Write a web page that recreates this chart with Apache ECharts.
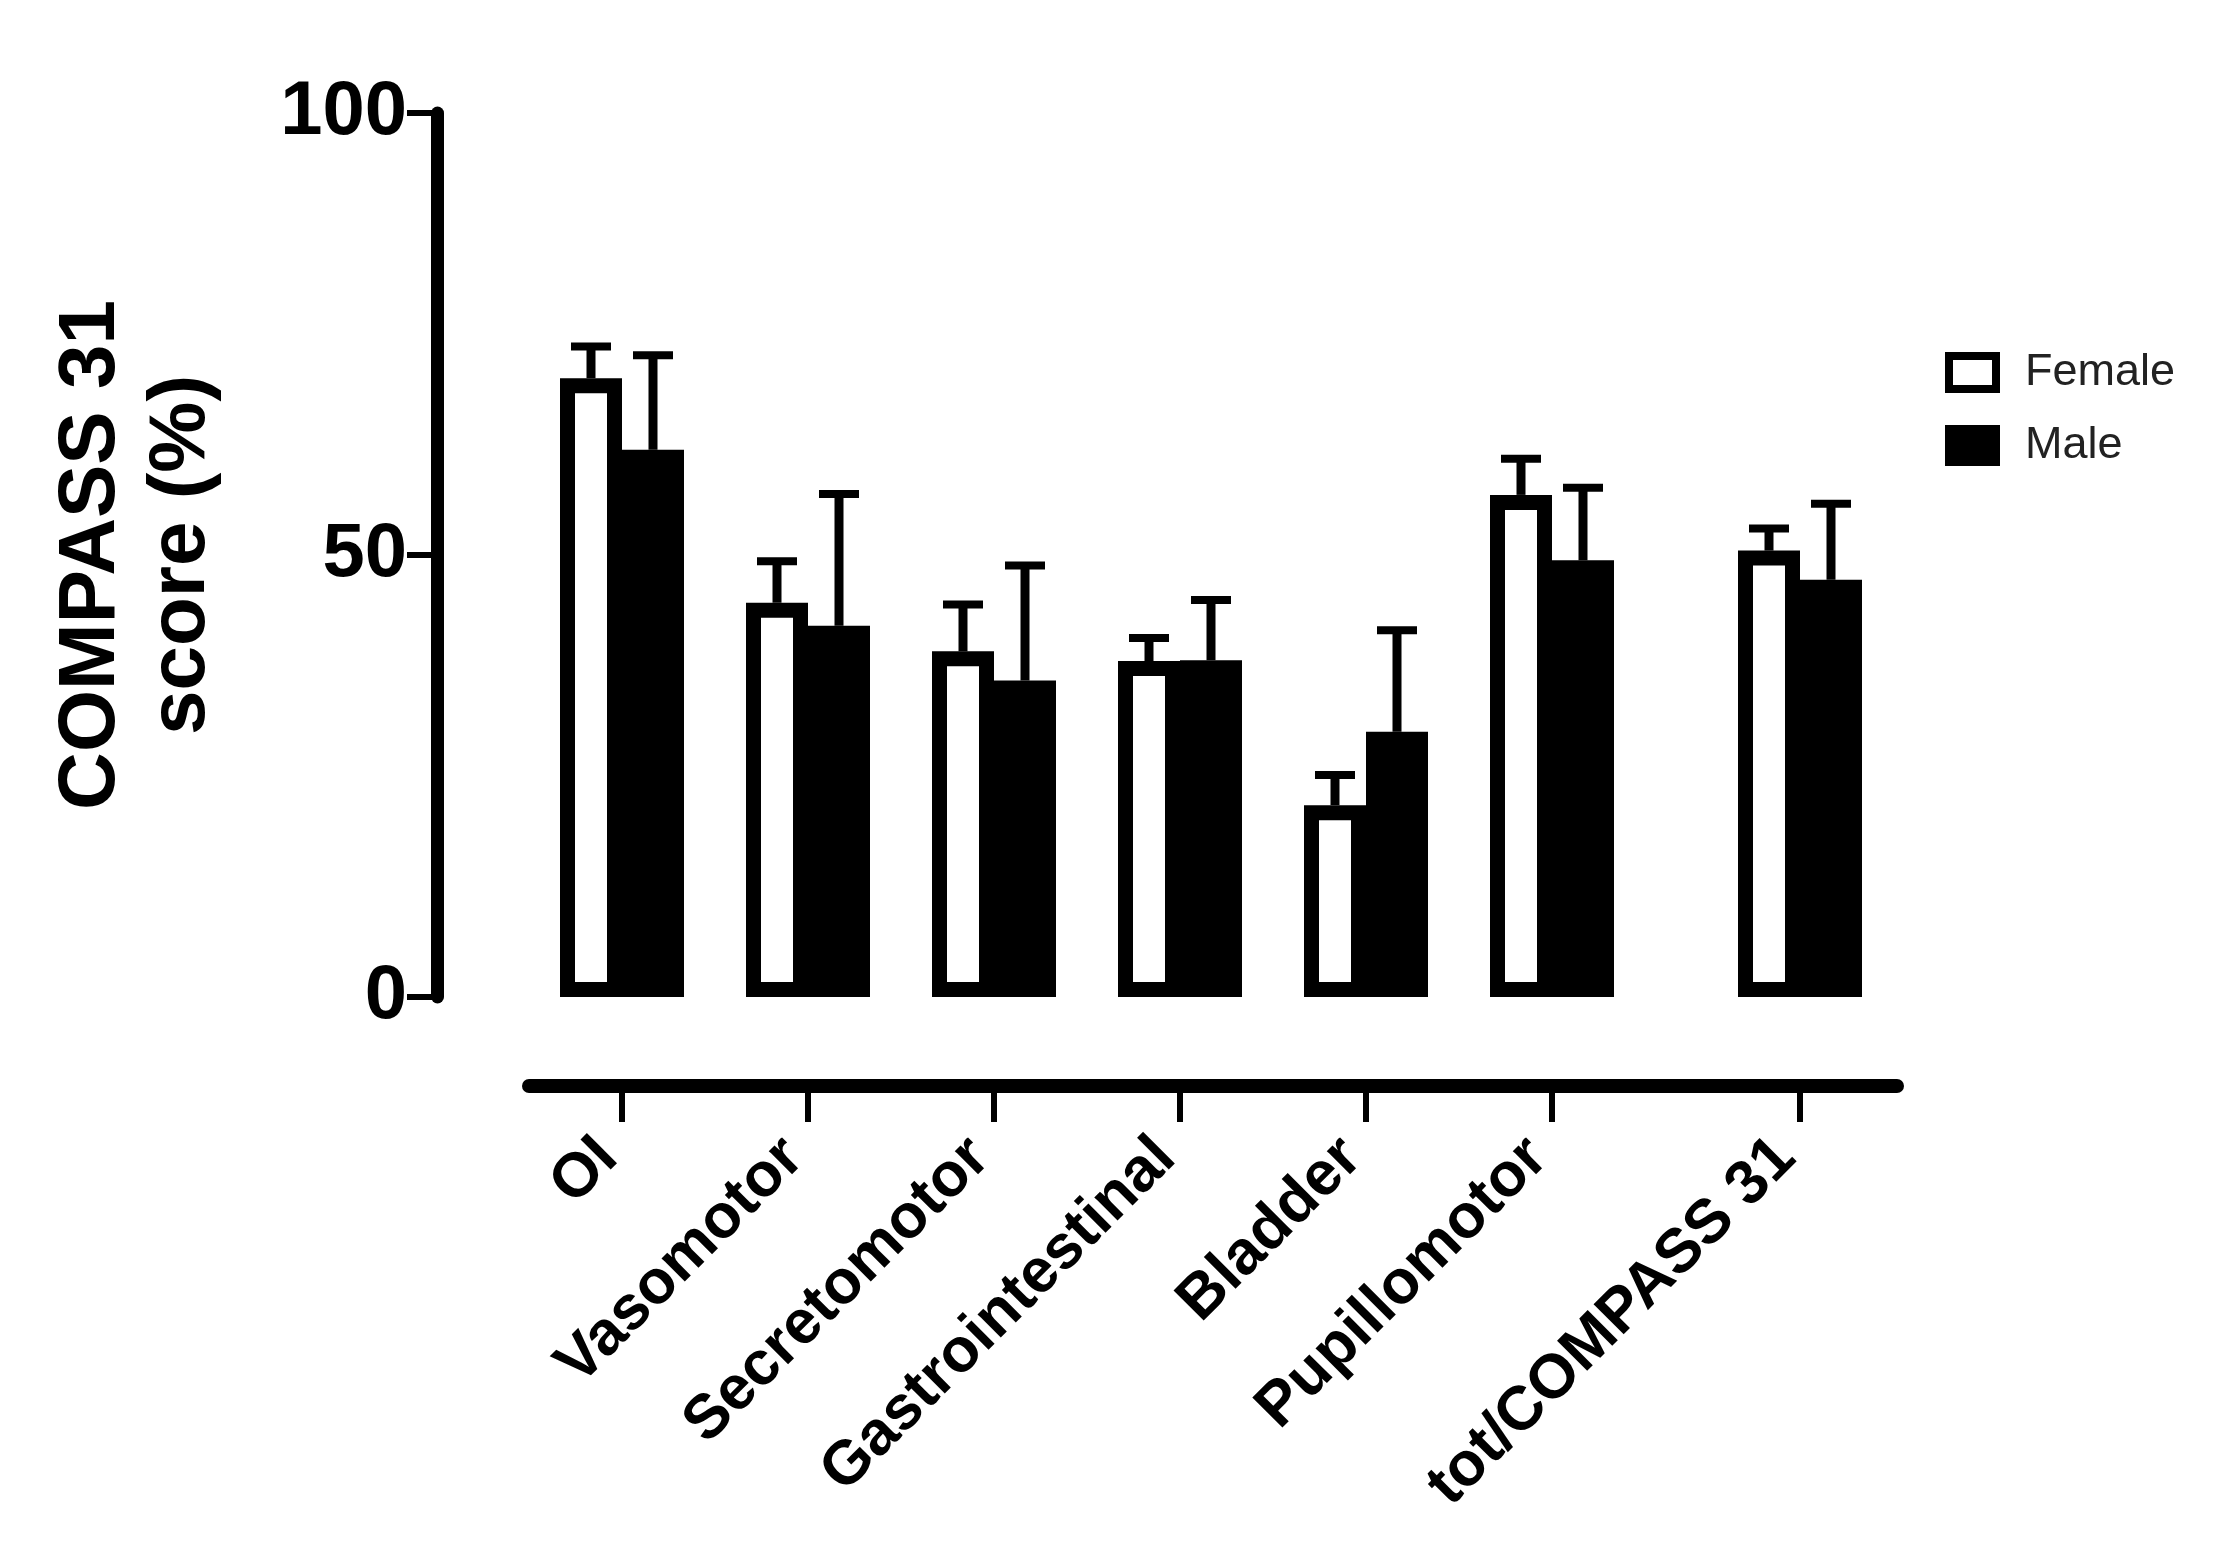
<!DOCTYPE html>
<html>
<head>
<meta charset="utf-8">
<script src="https://cdn.jsdelivr.net/npm/echarts@6/dist/echarts.min.js"></script>
<style>
html,body{margin:0;padding:0;background:#fff;}
#chart{width:2219px;height:1553px;}
</style>
</head>
<body>
<div id="chart"></div>
<script>
// ---- data ----
const categories = ['OI', 'Vasomotor', 'Secretomotor', 'Gastrointestinal', 'Bladder', 'Pupillomotor', 'tot/COMPASS 31'];
const femaleMean = [70.0, 44.6, 39.1, 38.0, 21.7, 56.8, 50.5];
const femaleErr  = [3.6, 4.7, 5.3, 2.6, 3.4, 4.1, 2.5];
const maleMean   = [61.9, 42.0, 35.8, 38.1, 30.0, 49.4, 47.2];
const maleErr    = [10.7, 14.9, 13.0, 6.8, 11.5, 8.2, 8.6];
const yTicks = [0, 50, 100];
const seriesNames = ['Female', 'Male'];

// ---- layout / style ----
const FONT = '"Liberation Sans", Arial, sans-serif';
const BAR_W = 62;
const GRID_TOP = 113, GRID_H = 884;
const nMain = 6;
const mainCats = categories.slice(0, nMain).concat(['']);
const totCats = categories.slice(nMain);

const chart = echarts.init(document.getElementById('chart'));

function xAxisCfg(gridIndex, data) {
  return {
    type: 'category', gridIndex: gridIndex, data: data, offset: 89,
    axisLine: {show: true, onZero: false, lineStyle: {color: '#000', width: 14}},
    axisTick: {show: true, alignWithLabel: true, length: 36,
      interval: function (i, v) { return v !== ''; },
      lineStyle: {color: '#000', width: 6}},
    axisLabel: {interval: 0, rotate: 45, margin: 48, color: '#000', padding: [0, 20, 0, 0],
      fontFamily: FONT, fontWeight: 'bold', fontSize: 62},
    splitLine: {show: false}
  };
}

function errRender(side) {
  return function (params, api) {
    const i = api.value(0), m = api.value(1), e = api.value(2);
    const base = api.coord([i, m]);
    const top = api.coord([i, m + e]);
    const x = base[0] + side * BAR_W / 2;
    return {type: 'group', children: [
      {type: 'line', shape: {x1: x, y1: base[1], x2: x, y2: top[1]}, style: {stroke: '#000', lineWidth: 9}},
      {type: 'line', shape: {x1: x - 20, y1: top[1], x2: x + 20, y2: top[1]}, style: {stroke: '#000', lineWidth: 8}}
    ]};
  };
}

function errData(means, errs) {
  return means.map(function (m, k) { return [k, m, errs[k]]; });
}

const femaleStyle = {color: '#fff', borderColor: '#000', borderWidth: 15};
const maleStyle = {color: '#000', borderColor: '#000', borderWidth: 15};

const series = [];
[[0, femaleMean.slice(0, nMain), maleMean.slice(0, nMain), femaleErr.slice(0, nMain), maleErr.slice(0, nMain)],
 [1, femaleMean.slice(nMain), maleMean.slice(nMain), femaleErr.slice(nMain), maleErr.slice(nMain)]].forEach(function (g) {
  const gi = g[0];
  series.push({name: seriesNames[0], type: 'bar', xAxisIndex: gi, yAxisIndex: gi, data: g[1],
    barWidth: BAR_W, barGap: '0%', itemStyle: femaleStyle, z: 2, silent: true});
  series.push({name: seriesNames[1], type: 'bar', xAxisIndex: gi, yAxisIndex: gi, data: g[2],
    barWidth: BAR_W, barGap: '0%', itemStyle: maleStyle, z: 2, silent: true});
  series.push({type: 'custom', xAxisIndex: gi, yAxisIndex: gi, renderItem: errRender(-1),
    data: errData(g[1], g[3]), z: 3, silent: true});
  series.push({type: 'custom', xAxisIndex: gi, yAxisIndex: gi, renderItem: errRender(1),
    data: errData(g[2], g[4]), z: 3, silent: true});
});

const option = {
  backgroundColor: '#fff',
  animation: false,
  grid: [
    {left: 529, top: GRID_TOP, width: 186 * 7, height: GRID_H, outerBoundsMode: 'none'},
    {left: 1703, top: GRID_TOP, width: 194, height: GRID_H, outerBoundsMode: 'none'}
  ],
  legend: {
    orient: 'vertical', left: 1940, top: 345,
    itemWidth: 47, itemHeight: 33, itemGap: 28, icon: 'rect',
    textStyle: {fontFamily: FONT, fontSize: 45, color: '#222', lineHeight: 33, padding: [0, 0, 0, 24]},
    data: [
      {name: seriesNames[0], itemStyle: {color: '#fff', borderColor: '#000', borderWidth: 8}},
      {name: seriesNames[1], itemStyle: {color: '#000', borderColor: '#000', borderWidth: 8}}
    ],
    selectedMode: false
  },
  xAxis: [xAxisCfg(0, mainCats), xAxisCfg(1, totCats)],
  yAxis: [
    {type: 'value', gridIndex: 0, min: yTicks[0], max: yTicks[yTicks.length - 1], interval: yTicks[1] - yTicks[0],
      position: 'left', offset: 92,
      axisLine: {show: true, lineStyle: {color: '#000', width: 13}},
      axisTick: {show: true, length: 30, lineStyle: {color: '#000', width: 6}},
      axisLabel: {margin: 30, color: '#000', fontFamily: FONT, fontWeight: 'bold', fontSize: 76},
      splitLine: {show: false},
      name: 'COMPASS 31\nscore (%)', nameLocation: 'middle', nameRotate: 90, nameGap: 210,
      nameTextStyle: {fontFamily: FONT, fontWeight: 'bold', fontSize: 80, lineHeight: 90, color: '#000', align: 'center'}
    },
    {type: 'value', gridIndex: 1, min: yTicks[0], max: yTicks[yTicks.length - 1], show: false, splitLine: {show: false}}
  ],
  series: series
};
chart.setOption(option);
</script>
</body>
</html>
